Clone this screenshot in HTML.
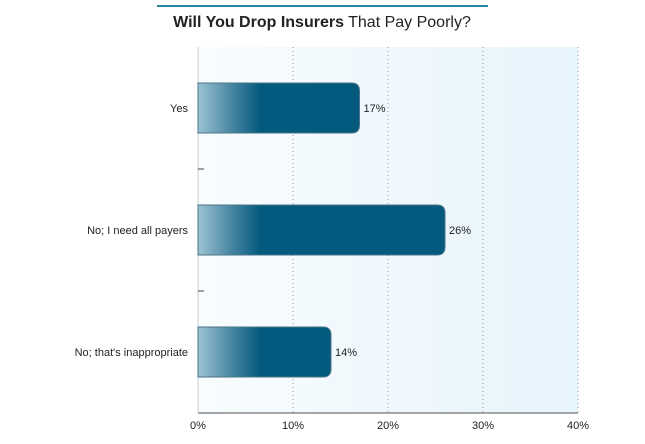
<!DOCTYPE html>
<html><head><meta charset="utf-8"><style>
body{margin:0;background:#fff;font-family:"Liberation Sans",sans-serif}
</style></head><body>
<svg width="645" height="439" viewBox="0 0 645 439">
<defs>
<linearGradient id="bg" x1="0" x2="1" y1="0" y2="0"><stop offset="0" stop-color="#f8fcfe"/><stop offset="1" stop-color="#e6f4fc"/></linearGradient>
<linearGradient id="bar" gradientUnits="userSpaceOnUse" x1="198" x2="260" y1="0" y2="0"><stop offset="0" stop-color="#9cc3d3"/><stop offset="0.5" stop-color="#4e8aa6"/><stop offset="1" stop-color="#045a7e"/></linearGradient>
</defs>
<line x1="157" y1="6" x2="488" y2="6" stroke="#2b84a6" stroke-width="2"/>
<text x="322" y="27" text-anchor="middle" font-size="16" fill="#222"><tspan font-weight="bold">Will You Drop Insurers</tspan> That Pay Poorly?</text>
<rect x="198" y="47" width="380" height="366" fill="url(#bg)"/>
<g id="grid"></g><g id="bars"></g><g id="labels"></g>
</svg>
<script>
const categories=["Yes","No; I need all payers","No; that's inappropriate"];
const values=[17,26,14];
const ticks=[0,10,20,30,40];
const ns="http://www.w3.org/2000/svg";
const plotL=198,plotR=578,plotTop=47,plotBot=413,maxV=40;
const xs=v=>plotL+(plotR-plotL)*v/maxV;
const band=(plotBot-plotTop)/categories.length;
function mk(t,a,p){const e=document.createElementNS(ns,t);for(const k in a)e.setAttribute(k,a[k]);p.appendChild(e);return e;}
const g=document.getElementById('grid'),b=document.getElementById('bars'),l=document.getElementById('labels');
ticks.forEach(t=>{
 if(t>0){const gl=mk('line',{x1:xs(t),x2:xs(t),y1:plotTop,y2:plotBot,stroke:'#999','stroke-dasharray':'1,3'},g);
 
 }
 const tx=mk('text',{x:xs(t),y:plotBot+16,'text-anchor':'middle','font-size':11,fill:'#222'},l);tx.textContent=t+'%';
 
 
});
const ax=mk('line',{x1:plotL,x2:plotR,y1:plotBot,y2:plotBot,stroke:'#888','stroke-width':1.5},g);


const ay=mk('line',{x1:plotL,x2:plotL,y1:plotTop,y2:plotBot,stroke:'#ccc'},g);


for(let i=1;i<categories.length;i++){const tk=mk('line',{x1:plotL,x2:plotL+6,y1:plotTop+band*i,y2:plotTop+band*i,stroke:'#444'},g);
 
 }
categories.forEach((c,i)=>{
 const cy=plotTop+band*i+band/2,h=50,w=xs(values[i])-plotL;
 const r=mk('path',{d:`M${plotL},${cy-h/2}H${plotL+w-8}Q${plotL+w},${cy-h/2} ${plotL+w},${cy-h/2+8}V${cy+h/2-8}Q${plotL+w},${cy+h/2} ${plotL+w-8},${cy+h/2}H${plotL}Z`,fill:'url(#bar)',stroke:'#4a7486','stroke-width':1},b);
 
 
 const v=mk('text',{x:plotL+w+4,y:cy+4,'font-size':11,fill:'#222'},l);v.textContent=values[i]+'%';
 
 
 const ct=mk('text',{x:188,y:cy+4,'text-anchor':'end','font-size':11,fill:'#222'},l);ct.textContent=c;
 
 
});
</script>
</body></html>
